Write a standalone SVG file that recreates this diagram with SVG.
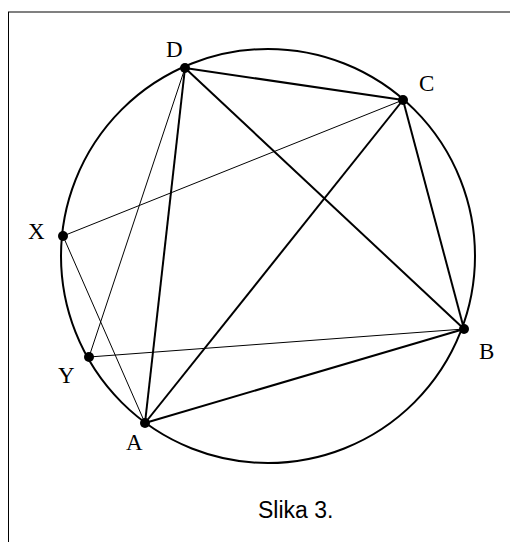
<svg xmlns="http://www.w3.org/2000/svg" width="510" height="542" viewBox="0 0 510 542">
<style>
.thick{stroke:#000;stroke-width:2;fill:none}
.thin{stroke:#000;stroke-width:1;fill:none}
.lbl{font-family:"Liberation Serif","Times New Roman",serif;font-size:23px;fill:#000}
.pt{fill:#000}
</style>
<rect width="510" height="542" fill="#fff"/>
<line x1="8" y1="12" x2="510" y2="12" stroke="#808080" stroke-width="2"/>
<line x1="8.5" y1="12" x2="8.5" y2="542" stroke="#000" stroke-width="1"/>
<g id="circle"><circle class="thick" cx="268" cy="256" r="207"/></g>
<g id="connectors">
<line class="thick" x1="185" y1="68" x2="403" y2="100"/>
<line class="thick" x1="185" y1="68" x2="145" y2="423"/>
<line class="thick" x1="185" y1="68" x2="464" y2="329"/>
<line class="thick" x1="403" y1="100" x2="145" y2="423"/>
<line class="thick" x1="403" y1="100" x2="464" y2="329"/>
<line class="thick" x1="145" y1="423" x2="464" y2="329"/>
<line class="thin" x1="63" y1="236" x2="403" y2="100"/>
<line class="thin" x1="63" y1="236" x2="145" y2="423"/>
<line class="thin" x1="185" y1="68" x2="89" y2="357"/>
<line class="thin" x1="89" y1="357" x2="464" y2="329"/>
</g>
<g id="D"><circle class="pt" cx="185" cy="68" r="5"/><text class="lbl" x="166" y="57">D</text></g>
<g id="C"><circle class="pt" cx="403" cy="100" r="5"/><text class="lbl" x="419" y="91">C</text></g>
<g id="X"><circle class="pt" cx="63" cy="236" r="5"/><text class="lbl" x="28" y="239">X</text></g>
<g id="Y"><circle class="pt" cx="89" cy="357" r="5"/><text class="lbl" x="58" y="383">Y</text></g>
<g id="A"><circle class="pt" cx="145" cy="423" r="5"/><text class="lbl" x="126" y="450">A</text></g>
<g id="B"><circle class="pt" cx="464" cy="329" r="5"/><text class="lbl" x="479" y="359">B</text></g>
<text x="258" y="518" font-family="Liberation Sans, Arial, sans-serif" font-size="23">Slika 3.</text>
</svg>
